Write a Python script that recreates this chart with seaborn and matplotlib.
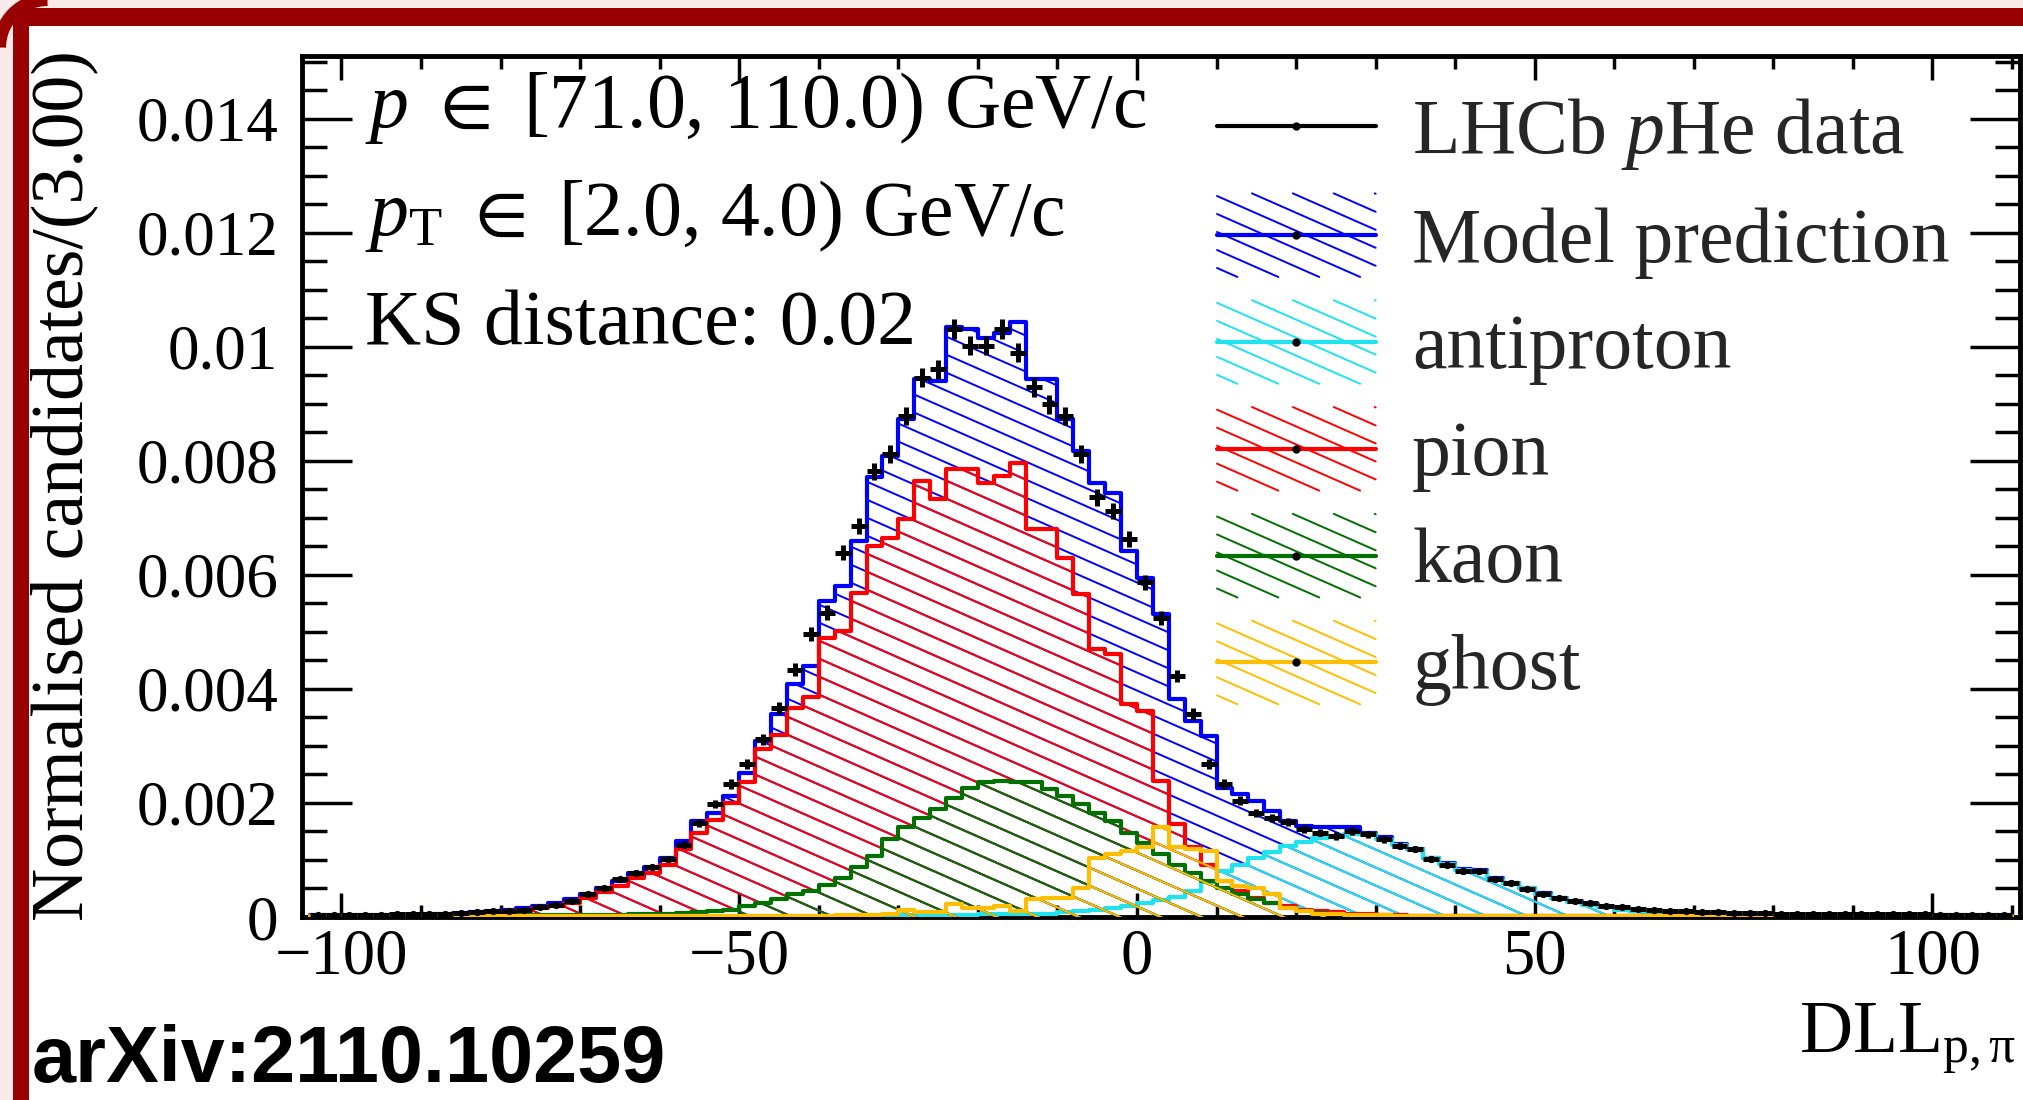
import numpy as np
import pandas as pd
import matplotlib
matplotlib.use("Agg")
import matplotlib.pyplot as plt
import seaborn as sns
from matplotlib.collections import LineCollection
from matplotlib.path import Path
from matplotlib.legend_handler import HandlerBase
from matplotlib.lines import Line2D
from matplotlib.ticker import MultipleLocator
import matplotlib.patches as mpatches
import matplotlib.transforms as mtransforms

# ---------------- data (bin width 2, centres -103 ... 109) ----------------
bin_edges = np.arange(-104, 112, 2)
bin_centres = bin_edges[:-1] + 1

lhcb_data = [
    0.00004, 0.00004, 0.00004, 0.00004, 0.00004, 0.00005, 0.00005, 0.00005, 0.00006, 0.00007,
    0.00008, 0.00010, 0.00011, 0.00013, 0.00017, 0.00021, 0.00028, 0.00040, 0.00051, 0.00066,
    0.00078, 0.00087, 0.00101, 0.00127, 0.00165, 0.00198, 0.00233, 0.00268, 0.00312, 0.00367,
    0.00434, 0.00496, 0.00534, 0.00639, 0.00686, 0.00782, 0.00812, 0.00879, 0.00946, 0.00961,
    0.01031, 0.01002, 0.01002, 0.01031, 0.00990, 0.00929, 0.00899, 0.00878, 0.00812, 0.00736,
    0.00712, 0.00663, 0.00587, 0.00524, 0.00423, 0.00356, 0.00268, 0.00233, 0.00204, 0.00183,
    0.00174, 0.00166, 0.00154, 0.00148, 0.00142, 0.00151, 0.00145, 0.00136, 0.00125, 0.00119,
    0.00101, 0.00092, 0.00081, 0.00081, 0.00066, 0.00060, 0.00049, 0.00040, 0.00034, 0.00028,
    0.00024, 0.00020, 0.00017, 0.00014, 0.00012, 0.00011, 0.00010, 0.00009, 0.00008, 0.00007,
    0.00007, 0.00007, 0.00006, 0.00006, 0.00006, 0.00006, 0.00005, 0.00005, 0.00005, 0.00005,
    0.00005, 0.00005, 0.00004, 0.00004, 0.00004, 0.00004, 0.00004,
]

model_prediction = [
    0.00003, 0.00003, 0.00003, 0.00003, 0.00003, 0.00003, 0.00004, 0.00005, 0.00006, 0.00007,
    0.00008, 0.00010, 0.00012, 0.00015, 0.00019, 0.00024, 0.00031, 0.00040, 0.00051, 0.00063,
    0.00078, 0.00087, 0.00104, 0.00133, 0.00168, 0.00183, 0.00212, 0.00253, 0.00309, 0.00356,
    0.00408, 0.00440, 0.00554, 0.00581, 0.00660, 0.00771, 0.00809, 0.00873, 0.00943, 0.00940,
    0.01034, 0.01031, 0.01016, 0.01025, 0.01043, 0.00943, 0.00943, 0.00873, 0.00818, 0.00762,
    0.00744, 0.00642, 0.00595, 0.00531, 0.00382, 0.00344, 0.00318, 0.00227, 0.00215, 0.00204,
    0.00186, 0.00168, 0.00160, 0.00157, 0.00157, 0.00157, 0.00148, 0.00140, 0.00128, 0.00120,
    0.00104, 0.00094, 0.00085, 0.00082, 0.00068, 0.00060, 0.00050, 0.00042, 0.00034, 0.00028,
    0.00022, 0.00018, 0.00014, 0.00011, 0.00009, 0.00007, 0.00006, 0.00005, 0.00005, 0.00004,
    0.00004, 0.00004, 0.00004, 0.00003, 0.00003, 0.00003, 0.00003, 0.00003, 0.00003, 0.00003,
    0.00003, 0.00003, 0.00003, 0.00003, 0.00003, 0.00003, 0.00003,
]

antiproton = [
    0.00001, 0.00001, 0.00001, 0.00001, 0.00001, 0.00001, 0.00001, 0.00001, 0.00001, 0.00001,
    0.00001, 0.00001, 0.00001, 0.00001, 0.00001, 0.00001, 0.00001, 0.00001, 0.00001, 0.00001,
    0.00001, 0.00001, 0.00001, 0.00001, 0.00001, 0.00001, 0.00001, 0.00001, 0.00001, 0.00001,
    0.00001, 0.00002, 0.00002, 0.00002, 0.00003, 0.00003, 0.00003, 0.00003, 0.00004, 0.00004,
    0.00004, 0.00004, 0.00005, 0.00005, 0.00005, 0.00005, 0.00006, 0.00008, 0.00010, 0.00013,
    0.00016, 0.00020, 0.00025, 0.00030, 0.00035, 0.00045, 0.00062, 0.00080, 0.00092, 0.00104,
    0.00114, 0.00124, 0.00132, 0.00138, 0.00142, 0.00146, 0.00145, 0.00137, 0.00126, 0.00119,
    0.00103, 0.00093, 0.00083, 0.00080, 0.00066, 0.00060, 0.00050, 0.00041, 0.00034, 0.00027,
    0.00021, 0.00017, 0.00013, 0.00010, 0.00008, 0.00006, 0.00005, 0.00004, 0.00003, 0.00003,
    0.00002, 0.00002, 0.00002, 0.00002, 0.00002, 0.00002, 0.00002, 0.00002, 0.00002, 0.00002,
    0.00002, 0.00002, 0.00002, 0.00002, 0.00002, 0.00002, 0.00002,
]

pion = [
    0.00002, 0.00002, 0.00002, 0.00002, 0.00002, 0.00002, 0.00003, 0.00003, 0.00004, 0.00005,
    0.00006, 0.00008, 0.00010, 0.00013, 0.00016, 0.00020, 0.00025, 0.00034, 0.00043, 0.00054,
    0.00069, 0.00078, 0.00092, 0.00119, 0.00148, 0.00171, 0.00200, 0.00236, 0.00294, 0.00320,
    0.00367, 0.00385, 0.00490, 0.00502, 0.00569, 0.00651, 0.00665, 0.00698, 0.00765, 0.00733,
    0.00785, 0.00785, 0.00762, 0.00774, 0.00797, 0.00680, 0.00680, 0.00630, 0.00566, 0.00470,
    0.00461, 0.00373, 0.00361, 0.00239, 0.00163, 0.00122, 0.00092, 0.00063, 0.00046, 0.00034,
    0.00025, 0.00019, 0.00013, 0.00010, 0.00008, 0.00006, 0.00005, 0.00004, 0.00003, 0.00002,
    0.00002, 0.00002, 0.00002, 0.00001, 0.00001, 0.00001, 0.00001, 0.00001, 0.00001, 0.00001,
    0.00001, 0.00001, 0.00001, 0.00001, 0.00001, 0.00001, 0.00001, 0.00001, 0.00001, 0.00001,
    0.00001, 0.00001, 0.00001, 0.00001, 0.00001, 0.00001, 0.00001, 0.00001, 0.00001, 0.00001,
    0.00001, 0.00001, 0.00001, 0.00001, 0.00001, 0.00001, 0.00001,
]

kaon = [
    0.00002, 0.00002, 0.00002, 0.00002, 0.00002, 0.00002, 0.00002, 0.00002, 0.00002, 0.00002,
    0.00002, 0.00002, 0.00003, 0.00003, 0.00003, 0.00003, 0.00003, 0.00003, 0.00003, 0.00004,
    0.00005, 0.00005, 0.00006, 0.00007, 0.00008, 0.00010, 0.00013, 0.00019, 0.00025, 0.00031,
    0.00040, 0.00046, 0.00057, 0.00069, 0.00087, 0.00107, 0.00136, 0.00157, 0.00174, 0.00189,
    0.00209, 0.00227, 0.00236, 0.00239, 0.00236, 0.00236, 0.00224, 0.00212, 0.00198, 0.00183,
    0.00168, 0.00148, 0.00130, 0.00110, 0.00092, 0.00078, 0.00063, 0.00051, 0.00040, 0.00031,
    0.00025, 0.00016, 0.00010, 0.00007, 0.00005, 0.00004, 0.00003, 0.00003, 0.00002, 0.00002,
    0.00002, 0.00002, 0.00002, 0.00002, 0.00001, 0.00001, 0.00001, 0.00001, 0.00001, 0.00001,
    0.00001, 0.00001, 0.00001, 0.00001, 0.00001, 0.00001, 0.00001, 0.00001, 0.00001, 0.00001,
    0.00001, 0.00001, 0.00001, 0.00001, 0.00001, 0.00001, 0.00001, 0.00001, 0.00001, 0.00001,
    0.00001, 0.00001, 0.00001, 0.00001, 0.00001, 0.00001, 0.00001,
]

ghost = [
    0.00001, 0.00001, 0.00001, 0.00001, 0.00001, 0.00001, 0.00001, 0.00001, 0.00001, 0.00001,
    0.00001, 0.00001, 0.00001, 0.00001, 0.00001, 0.00001, 0.00001, 0.00001, 0.00001, 0.00001,
    0.00001, 0.00001, 0.00001, 0.00001, 0.00001, 0.00001, 0.00001, 0.00001, 0.00001, 0.00001,
    0.00001, 0.00001, 0.00002, 0.00003, 0.00003, 0.00004, 0.00005, 0.00013, 0.00008, 0.00008,
    0.00022, 0.00015, 0.00015, 0.00019, 0.00010, 0.00031, 0.00033, 0.00033, 0.00051, 0.00104,
    0.00110, 0.00116, 0.00122, 0.00157, 0.00122, 0.00119, 0.00116, 0.00063, 0.00054, 0.00050,
    0.00040, 0.00016, 0.00010, 0.00006, 0.00005, 0.00004, 0.00003, 0.00003, 0.00002, 0.00002,
    0.00001, 0.00001, 0.00001, 0.00001, 0.00001, 0.00001, 0.00001, 0.00001, 0.00001, 0.00001,
    0.00001, 0.00001, 0.00001, 0.00001, 0.00001, 0.00001, 0.00001, 0.00001, 0.00001, 0.00001,
    0.00001, 0.00001, 0.00001, 0.00001, 0.00001, 0.00001, 0.00001, 0.00001, 0.00001, 0.00001,
    0.00001, 0.00001, 0.00001, 0.00001, 0.00001, 0.00001, 0.00001,
]

series_names = ["Model prediction", "antiproton", "pion", "kaon", "ghost"]
series_values = [model_prediction, antiproton, pion, kaon, ghost]
series_colors = ["#0000ff", "#1fe3ee", "#ff0000", "#007000", "#ffbf00"]

xtick_values = [-100, -50, 0, 50, 100]
xtick_labels = ["\u2212100", "\u221250", "0", "50", "100"]
ytick_values = [0, 0.002, 0.004, 0.006, 0.008, 0.010, 0.012, 0.014]
ytick_labels = ["0", "0.002", "0.004", "0.006", "0.008", "0.01", "0.012", "0.014"]

info_lines = [
    "$p$ $\\in$ [71.0, 110.0) GeV/c",
    "$p_{\\mathregular{T}}$ $\\in$ [2.0, 4.0) GeV/c",
    "KS distance: 0.02",
]

for s in series_values + [lhcb_data]:
    assert len(s) == len(bin_centres)

# ---------------- style ----------------
FIG_W, FIG_H = 2024, 1100
sns.set_theme(style="ticks")
plt.rcParams["font.family"] = ["Liberation Serif", "DejaVu Serif"]
plt.rcParams["mathtext.fontset"] = "custom"
plt.rcParams["mathtext.rm"] = "Liberation Serif"
plt.rcParams["mathtext.it"] = "Liberation Serif:italic"
plt.rcParams["mathtext.bf"] = "Liberation Serif:bold"
plt.rcParams["mathtext.fallback"] = "stix"
plt.rcParams["axes.linewidth"] = 3.5

PINK = "#f9e9e9"
DARKRED = "#990000"
HATCH_SLOPE = 0.44      # pixel slope of the hatch lines (down to the right)
HATCH_GAP = 18.0        # vertical gap between hatch lines in pixels
HATCH_LW = 1.4
OUTLINE_LW = 3.0

fig = plt.figure(figsize=(FIG_W / 100, FIG_H / 100), dpi=100, facecolor=PINK)
pxtrans = mtransforms.Affine2D().scale(1.0 / FIG_W, 1.0 / FIG_H) + fig.transFigure


def fx(px):
    return px / FIG_W


def fy(py):
    return 1 - py / FIG_H


# page frame (pixel coordinates, origin bottom-left)
fig.patches.append(mpatches.Rectangle((29, 0), FIG_W, FIG_H - 26, transform=pxtrans,
                                      facecolor="white", edgecolor="none", zorder=-3))
fig.patches.append(mpatches.Rectangle((13, FIG_H - 26), FIG_W, 18, transform=pxtrans,
                                      facecolor=DARKRED, edgecolor="none", zorder=-2))
fig.patches.append(mpatches.Rectangle((13, 0), 16, FIG_H - 8, transform=pxtrans,
                                      facecolor=DARKRED, edgecolor="none", zorder=-2))
fig.patches.append(mpatches.Arc((47.5, FIG_H - 47.5), 2 * 48, 2 * 48, theta1=90, theta2=180,
                                transform=pxtrans, color=DARKRED, lw=9.4, zorder=-2))

ax_left, ax_right, ax_top, ax_bottom = 301.7, 2020, 55.5, 917
ax = fig.add_axes([fx(ax_left), fy(ax_bottom), fx(ax_right) - fx(ax_left), fy(ax_top) - fy(ax_bottom)])
ax.set_zorder(1)
ax.set_facecolor("white")

Wp = (ax_right - ax_left)
Hp = (ax_bottom - ax_top)
offsets = np.arange(0, Hp + HATCH_SLOPE * Wp + HATCH_GAP, HATCH_GAP)
hatch_segments = [[(0, c / Hp), (1, (c - HATCH_SLOPE * Wp) / Hp)] for c in offsets]


def step_path(edges, values):
    vals = np.asarray(values)
    xs = np.repeat(edges, 2)
    ys = np.concatenate([[0], np.repeat(vals, 2), [0]])
    verts = np.column_stack([xs, ys])
    verts = np.vstack([verts, verts[:1]])
    return Path(verts, closed=True)


for k, (name, vals, col) in enumerate(zip(series_names, series_values, series_colors)):
    z = 2 + k
    lc = LineCollection(hatch_segments, colors=col, linewidths=HATCH_LW,
                        transform=ax.transAxes, zorder=z)
    lc.set_clip_path(step_path(bin_edges, vals), ax.transData)
    ax.add_collection(lc, autolim=False)
    df = pd.DataFrame({"DLL": bin_centres, "w": vals})
    sns.histplot(data=df, x="DLL", weights="w", bins=len(bin_centres),
                 binrange=(bin_edges[0], bin_edges[-1]), element="step", fill=False,
                 color=col, linewidth=OUTLINE_LW, ax=ax, zorder=z + 0.5)

err = 0.0017 * np.sqrt(np.asarray(lhcb_data))
ax.errorbar(bin_centres, lhcb_data, xerr=1.0, yerr=err, fmt="o", ms=4.2, color="black",
            elinewidth=3.6, capsize=0, zorder=20)

ax.set_xlim(-105, 111)
ax.set_ylim(0, 0.01511)

ax.set_xticks(xtick_values, xtick_labels)
ax.set_yticks(ytick_values, ytick_labels)
ax.xaxis.set_minor_locator(MultipleLocator(10))
ax.yaxis.set_minor_locator(MultipleLocator(0.0005))
ax.tick_params(axis="both", which="both", direction="in", top=True, right=True,
               width=2.5, color="black", labelcolor="black")
ax.tick_params(axis="x", which="major", length=17, pad=8, labelsize=46.5)
ax.tick_params(axis="x", which="minor", length=9)
ax.tick_params(axis="y", which="major", length=36, pad=17, labelsize=45.5)
ax.tick_params(axis="y", which="minor", length=18)
for sp in ax.spines.values():
    sp.set_linewidth(3.5)
    sp.set_color("black")

ax.set_ylabel("Normalised candidates/(3.00)", fontsize=53, color="black")
ax.yaxis.set_label_coords(fx(64.5), fy(486), transform=fig.transFigure)
ax.yaxis.label.set_verticalalignment("center")
ax.set_xlabel("DLL$_{\\mathregular{p,\u03c0}}$", fontsize=53, color="black")
ax.xaxis.set_label_coords(fx(2016), fy(1052), transform=fig.transFigure)
ax.xaxis.label.set_horizontalalignment("right")
ax.xaxis.label.set_verticalalignment("baseline")

for i, txt in enumerate(info_lines):
    ax.annotate(txt, xy=(365, FIG_H - (127 + 108.5 * i)), xycoords="figure pixels",
                fontsize=56, ha="left", va="baseline", color="black", zorder=30)


# ---------------- legend ----------------
class HatchHandler(HandlerBase):
    def __init__(self, color, hatched=True):
        super().__init__()
        self.color = color
        self.hatched = hatched

    def create_artists(self, legend, orig_handle, xdescent, ydescent, width, height, fontsize, trans):
        arts = []
        x0 = -xdescent
        ym = -ydescent + height / 2
        box_h = height * 1.12
        y0 = ym - box_h / 2
        if self.hatched:
            gap = HATCH_GAP * 0.72
            c = gap * 0.5
            while c < box_h + HATCH_SLOPE * width:
                u1 = max(0.0, (c - box_h) / HATCH_SLOPE)
                u2 = min(width, c / HATCH_SLOPE)
                if u2 > u1:
                    arts.append(Line2D([x0 + u1, x0 + u2],
                                       [y0 + c - HATCH_SLOPE * u1, y0 + c - HATCH_SLOPE * u2],
                                       color=self.color, lw=HATCH_LW, transform=trans))
                c += gap
        arts.append(Line2D([x0, x0 + width], [ym, ym], color=self.color, lw=OUTLINE_LW, transform=trans))
        arts.append(Line2D([x0 + width / 2], [ym], marker="o", ms=5, color="black", ls="none",
                           transform=trans))
        return arts


handles = [mpatches.Patch(label="LHCb $p$He data")]
hmap = {handles[0]: HatchHandler("black", hatched=False)}
for name, col in zip(series_names, series_colors):
    h = mpatches.Patch(label=name)
    handles.append(h)
    hmap[h] = HatchHandler(col)

leg = ax.legend(handles=handles, handler_map=hmap, loc="upper left",
                bbox_to_anchor=(fx(1217), fy(89)), bbox_transform=fig.transFigure,
                frameon=False, fontsize=56, handlelength=2.04, handleheight=1.1,
                handletextpad=0.47, labelspacing=0.335, borderpad=0, borderaxespad=0)
leg.set_zorder(40)

fig.text(fx(32), fy(1099), "arXiv:2110.10259", fontsize=57, fontweight="bold",
         family=["Liberation Sans", "DejaVu Sans"], ha="left", va="bottom", color="black")

fig.savefig("out.png", dpi=100, facecolor=fig.get_facecolor())
